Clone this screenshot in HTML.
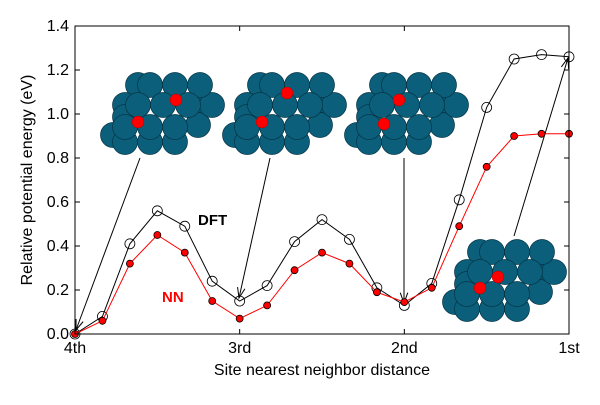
<!DOCTYPE html>
<html><head><meta charset="utf-8"><style>
body{margin:0;background:#fff;}
svg text{font-family:"Liberation Sans","DejaVu Sans",sans-serif;}
</style></head><body>
<svg id="chart" width="600" height="400" xmlns="http://www.w3.org/2000/svg">
<g id="clusters"></g>
<g id="arrows"></g>
<g id="series"></g>
<rect x="75" y="26" width="494" height="308" fill="none" stroke="#000" stroke-width="1"/>
<g id="axes"></g>
<text x="198" y="225" font-size="15" font-weight="bold">DFT</text>
<text x="162" y="302" font-size="15" font-weight="bold" fill="#f00">NN</text>
<text x="322" y="375" font-size="16" text-anchor="middle">Site nearest neighbor distance</text>
<text x="32" y="180" font-size="16" text-anchor="middle" transform="rotate(-90 32 180)">Relative potential energy (eV)</text>
</svg>
<script>
const xTickLabels=["4th","3rd","2nd","1st"];
const yTicks=[0.0,0.2,0.4,0.6,0.8,1.0,1.2,1.4];
const dft=[0.0,0.08,0.41,0.56,0.49,0.24,0.15,0.22,0.42,0.52,0.43,0.21,0.13,0.23,0.61,1.03,1.25,1.27,1.26];
const nn=[0.0,0.06,0.32,0.45,0.37,0.15,0.07,0.13,0.29,0.37,0.32,0.19,0.145,0.21,0.49,0.76,0.90,0.91,0.91];
const NS="http://www.w3.org/2000/svg";
const X0=75,X1=569,Y0=334,Y1=26;
const n=dft.length;
const xs=i=>X0+(X1-X0)*i/(n-1);
const ys=v=>Y0-(Y0-Y1)*v/1.4;
function mk(t,a,p){const e=document.createElementNS(NS,t);for(const k in a)e.setAttribute(k,a[k]);p.appendChild(e);return e;}
const ax=document.getElementById('axes');
yTicks.forEach(v=>{const y=ys(v);
 let l=mk('line',{x1:X0,x2:X0+5,y1:y,y2:y,stroke:'#000'},ax);
 
 mk('line',{x1:X1,x2:X1-5,y1:y,y2:y,stroke:'#000'},ax);
 let t=mk('text',{x:X0-6,y:y+5,'font-size':16,'text-anchor':'end'},ax);t.textContent=v.toFixed(1);
 });
xTickLabels.forEach((s,i)=>{const x=X0+(X1-X0)*i/(xTickLabels.length-1);
 mk('line',{x1:x,x2:x,y1:Y0,y2:Y0-5,stroke:'#000'},ax);mk('line',{x1:x,x2:x,y1:Y1,y2:Y1+5,stroke:'#000'},ax);
 let t=mk('text',{x:x,y:Y0+19,'font-size':16,'text-anchor':'middle'},ax);t.textContent=s;
 });
// clusters
const cg=document.getElementById('clusters');
const back=[[-12,0],[50,15],[-25,20],[-25,32],[-37,50],[-25,57],[0,57],[25,57],[48,40],[62,20]];
const front=[[0,0],[25,0],[50,0],[-12,20],[13,20],[38,20],[-25,42],[0,42],[25,42]];
const clusters=[{c:[150,85],r:[[-12,37],[26,15]]},{c:[272,85],r:[[-10,37],[15,8]]},{c:[394,85],r:[[-10,39],[5,15]]},{c:[492,252],r:[[-12,36],[6,25]]}];
clusters.forEach(cl=>{const g=mk('g',{},cg);
 
 back.concat(front).forEach(p=>mk('circle',{cx:cl.c[0]+p[0],cy:cl.c[1]+p[1],r:12.5,fill:'#0b5f7a',stroke:'#053445','stroke-width':0.7},g));
 cl.r.forEach(p=>mk('circle',{cx:cl.c[0]+p[0],cy:cl.c[1]+p[1],r:6,fill:'#f00',stroke:'#a00','stroke-width':0.5},g));});
// arrows
const ag=document.getElementById('arrows');
[[140,158,76,330],[270,158,239,298],[404,158,404,303],[514,236,568,58]].forEach(a=>{
 const g=mk('g',{},ag);
 mk('line',{x1:a[0],y1:a[1],x2:a[2],y2:a[3],stroke:'#000','stroke-width':1},g);
 const ang=Math.atan2(a[3]-a[1],a[2]-a[0]),L=11,w=0.35;
 const p1=[a[2]-L*Math.cos(ang-w),a[3]-L*Math.sin(ang-w)],p2=[a[2]-L*Math.cos(ang+w),a[3]-L*Math.sin(ang+w)];
 mk('polyline',{points:`${p1} ${a[2]},${a[3]} ${p2}`,fill:'none',stroke:'#000','stroke-width':1},g);});
// series
const sg=document.getElementById('series');
function series(vals,color,fill,r,name){const g=mk('g',{},sg);
 
 mk('polyline',{points:vals.map((v,i)=>xs(i)+','+ys(v)).join(' '),fill:'none',stroke:color,'stroke-width':1},g);
 vals.forEach((v,i)=>{const c=mk('circle',{cx:xs(i),cy:ys(v),r:r,fill:fill,stroke:'#000','stroke-width':0.8},g);
  });}
series(dft,'#000','none',5,'dft-series');
series(nn,'#f00','#f00',3.5,'nn-series');
</script>
</body></html>
